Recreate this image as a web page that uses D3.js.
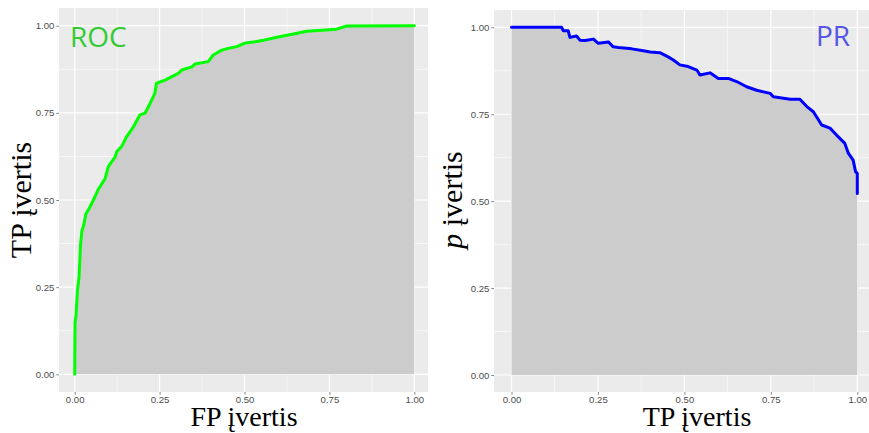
<!DOCTYPE html>
<html>
<head>
<meta charset="utf-8">
<script src="https://cdn.jsdelivr.net/npm/d3@7"></script>
<style>
  html, body { margin: 0; padding: 0; background: #fff; }
  svg { display: block; }
</style>
</head>
<body>
<div id="chart"></div>
<script>
// ROC curve points (false positive rate, true positive rate)
const rocFP = [0, 0.001, 0.004, 0.008, 0.013, 0.017, 0.021, 0.027, 0.033, 0.045, 0.060, 0.069, 0.089, 0.094, 0.099, 0.119, 0.124, 0.138, 0.153, 0.173, 0.192, 0.207, 0.222, 0.236, 0.241, 0.266, 0.286, 0.305, 0.315, 0.345, 0.354, 0.393, 0.408, 0.433, 0.452, 0.477, 0.501, 0.531, 0.555, 0.595, 0.644, 0.683, 0.771, 0.801, 1.0];
const rocTP = [0, 0.148, 0.17, 0.24, 0.28, 0.37, 0.41, 0.43, 0.46, 0.48, 0.51, 0.53, 0.56, 0.577, 0.596, 0.624, 0.639, 0.653, 0.682, 0.71, 0.744, 0.749, 0.777, 0.806, 0.835, 0.844, 0.854, 0.863, 0.873, 0.882, 0.89, 0.897, 0.916, 0.93, 0.935, 0.94, 0.95, 0.954, 0.958, 0.967, 0.976, 0.984, 0.99, 0.999, 1.0];

// PR curve points (recall, precision)
const prRecall = [0, 0.145, 0.150, 0.164, 0.169, 0.188, 0.198, 0.213, 0.237, 0.251, 0.280, 0.294, 0.309, 0.348, 0.377, 0.401, 0.429, 0.453, 0.468, 0.487, 0.511, 0.536, 0.545, 0.574, 0.598, 0.627, 0.651, 0.680, 0.709, 0.748, 0.757, 0.806, 0.834, 0.854, 0.873, 0.897, 0.921, 0.940, 0.964, 0.974, 0.988, 0.995, 1.0, 1.0];
const prPrecision = [1, 1, 0.990, 0.990, 0.971, 0.975, 0.963, 0.962, 0.966, 0.954, 0.958, 0.944, 0.942, 0.938, 0.933, 0.929, 0.927, 0.915, 0.906, 0.892, 0.887, 0.877, 0.863, 0.869, 0.853, 0.853, 0.844, 0.829, 0.819, 0.810, 0.800, 0.793, 0.793, 0.772, 0.757, 0.719, 0.710, 0.690, 0.666, 0.638, 0.618, 0.585, 0.58, 0.522];

const majorTicks = [0, 0.25, 0.5, 0.75, 1];
const minorTicks = [0.125, 0.375, 0.625, 0.875];

const width = 869, height = 433;

const svg = d3.select('#chart').append('svg')
    .attr('width', width)
    .attr('height', height);

function drawPanel(opts) {
    const g = svg.append('g');
    const x = d3.scaleLinear().domain([0, 1]).range(opts.xRange);
    const y = d3.scaleLinear().domain([0, 1]).range(opts.yRange);
    const data = opts.xs.map((v, i) => [v, opts.ys[i]]);

    // panel background
    g.append('rect')
        .attr('x', opts.bg[0]).attr('y', opts.bg[1])
        .attr('width', opts.bg[2] - opts.bg[0])
        .attr('height', opts.bg[3] - opts.bg[1])
        .attr('fill', '#ebebeb');

    // minor grid
    minorTicks.forEach(t => {
        g.append('line')
            .attr('x1', x(t)).attr('x2', x(t))
            .attr('y1', opts.bg[1]).attr('y2', opts.bg[3])
            .attr('stroke', '#fff').attr('stroke-width', 0.6);
        g.append('line')
            .attr('x1', opts.bg[0]).attr('x2', opts.bg[2])
            .attr('y1', y(t)).attr('y2', y(t))
            .attr('stroke', '#fff').attr('stroke-width', 0.6);
    });
    // major grid
    majorTicks.forEach(t => {
        g.append('line')
            .attr('x1', x(t)).attr('x2', x(t))
            .attr('y1', opts.bg[1]).attr('y2', opts.bg[3])
            .attr('stroke', '#fff').attr('stroke-width', 1.2);
        g.append('line')
            .attr('x1', opts.bg[0]).attr('x2', opts.bg[2])
            .attr('y1', y(t)).attr('y2', y(t))
            .attr('stroke', '#fff').attr('stroke-width', 1.2);
    });

    // area under the curve
    const area = d3.area()
        .x(d => x(d[0]))
        .y0(y(0))
        .y1(d => y(d[1]));
    g.append('path')
        .datum(data)
        .attr('d', area)
        .attr('fill', '#cccccc');

    // curve
    const line = d3.line()
        .x(d => x(d[0]))
        .y(d => y(d[1]));
    g.append('path')
        .datum(data)
        .attr('d', line)
        .attr('fill', 'none')
        .attr('stroke', opts.lineColor)
        .attr('stroke-width', 3)
        .attr('stroke-linejoin', 'round')
        .attr('stroke-linecap', 'round');

    // axes
    const fmt = d3.format('.2f');
    const xAxis = g.append('g')
        .attr('transform', `translate(0,${opts.bg[3]})`)
        .call(d3.axisBottom(x).tickValues(majorTicks).tickFormat(fmt).tickSize(2.7).tickPadding(1.5));
    const yAxis = g.append('g')
        .attr('transform', `translate(${opts.bg[0]},0)`)
        .call(d3.axisLeft(y).tickValues(majorTicks).tickFormat(fmt).tickSize(2.7).tickPadding(2));
    [xAxis, yAxis].forEach(a => {
        a.select('.domain').remove();
        a.selectAll('.tick line').attr('stroke', '#333').attr('stroke-width', 0.6);
        a.selectAll('.tick text')
            .attr('fill', '#4d4d4d')
            .style('font-family', '"Liberation Sans", Arial, sans-serif')
            .style('font-size', '9.6px');
    });

    // corner label
    g.append('text')
        .attr('x', opts.label.x).attr('y', opts.label.y)
        .attr('text-anchor', opts.label.anchor)
        .attr('fill', opts.label.color)
        .style('font-family', '"Open Sans", "DejaVu Sans", sans-serif')
        .style('font-size', '28px')
        .text(opts.label.text);

    // x title
    g.append('text')
        .attr('x', opts.xTitle.x).attr('y', 426)
        .attr('text-anchor', 'middle')
        .style('font-family', '"Liberation Serif", "Times New Roman", serif')
        .style('font-size', '28px')
        .attr('fill', '#000')
        .text(opts.xTitle.text);

    // y title
    const yt = g.append('text')
        .attr('transform', `translate(${opts.yTitle.x},200) rotate(-90)`)
        .attr('text-anchor', 'middle')
        .style('font-family', '"Liberation Serif", "Times New Roman", serif')
        .style('font-size', '30px')
        .attr('fill', '#000');
    if (opts.yTitle.italic) {
        yt.append('tspan').style('font-style', 'italic').text(opts.yTitle.italic);
    }
    yt.append('tspan').text(opts.yTitle.text);
}

drawPanel({
    xs: rocFP, ys: rocTP,
    bg: [59, 8, 428, 392],
    xRange: [74.7, 414.3],
    yRange: [374.3, 25.7],
    lineColor: '#00ff00',
    label: { text: 'ROC', x: 70, y: 47, anchor: 'start', color: '#33cc33' },
    xTitle: { text: 'FP įvertis', x: 244 },
    yTitle: { text: 'TP įvertis', x: 31 }
});

drawPanel({
    xs: prRecall, ys: prPrecision,
    bg: [494, 10, 869, 392],
    xRange: [511.5, 857.3],
    yRange: [375, 27.3],
    lineColor: '#0000ff',
    label: { text: 'PR', x: 850, y: 46, anchor: 'end', color: '#5555e6' },
    xTitle: { text: 'TP įvertis', x: 697 },
    yTitle: { text: ' įvertis', italic: 'p', x: 462 }
});
</script>
</body>
</html>
